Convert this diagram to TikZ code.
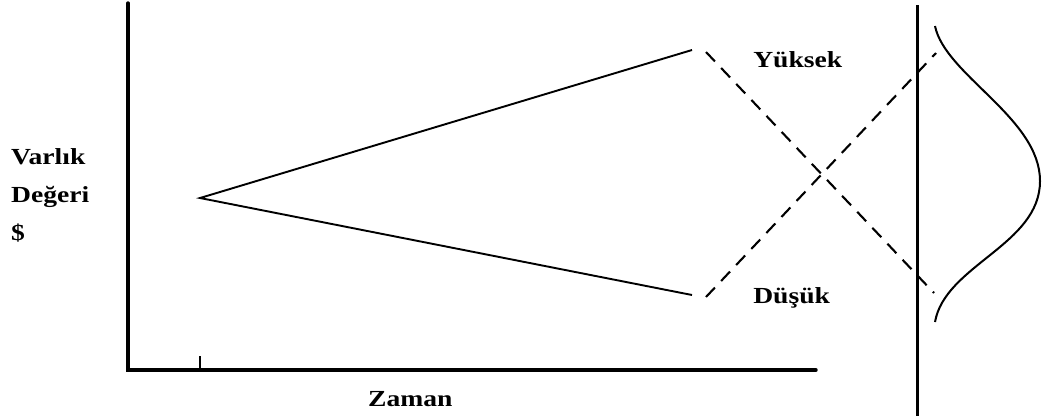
\documentclass[tikz,border=0pt]{standalone}
\usepackage{fontspec}
\setmainfont{Liberation Serif}
\begin{document}
\begin{tikzpicture}[x=1pt,y=-1pt,
  axis/.style={line width=3.4pt},
  sline/.style={line width=1.9pt},
  dline/.style={line width=2.1pt,dash pattern=on 13pt off 9pt},
  lab/.style={font=\fontsize{23}{23}\selectfont\bfseries,inner sep=0pt,xscale=1.2}]
\useasboundingbox (0,0) rectangle (1043,416);
% axes
\coordinate (ytop) at (128,3);
\coordinate (orig) at (128,370);
\coordinate (xend) at (816,370);
\draw[axis,line cap=round] (ytop) -- (orig) -- (xend);
\coordinate (tickb) at (200,370);
\coordinate (ticka) at (200,356);
\draw[line width=2.4pt] (tickb) -- (ticka);
% right vertical line
\coordinate (vtop) at (917,5);
\coordinate (vbot) at (917,416);
\draw[line width=3pt] (vtop) -- (vbot);
% solid lines
\coordinate (start) at (200,198);
\coordinate (hi) at (692,50);
\coordinate (lo) at (692,295);
\draw[sline] (hi) -- (start) -- (lo);
% dashed lines
\coordinate (d1a) at (706,52);
\coordinate (d1b) at (934,293);
\coordinate (d2a) at (706,297);
\coordinate (d2b) at (936,53);
\draw[dline] (d1a) -- (d1b);
\draw[dline] (d2a) -- (d2b);
% bell curve
\coordinate (b1) at (935,26);
\coordinate (bp) at (1040,181);
\coordinate (b2) at (935,322);
\draw[line width=2pt] (b1) .. controls (945,75) and (1040,118) .. (bp)
  .. controls (1040,245) and (945,265) .. (b2);
% labels
\node[lab,anchor=base west] (yuk) at (753,67) {Yüksek};
\node[lab,anchor=base west] (dus) at (753,303) {Düşük};
\node[lab,anchor=base west] (v1) at (11,164) {Varlık};
\node[lab,anchor=base west] (v2) at (11,202) {Değeri};
\node[lab,anchor=base west] (v3) at (11,240) {\$};
\node[lab,anchor=base west] (zm) at (368,406) {Zaman};
\end{tikzpicture}
\end{document}
